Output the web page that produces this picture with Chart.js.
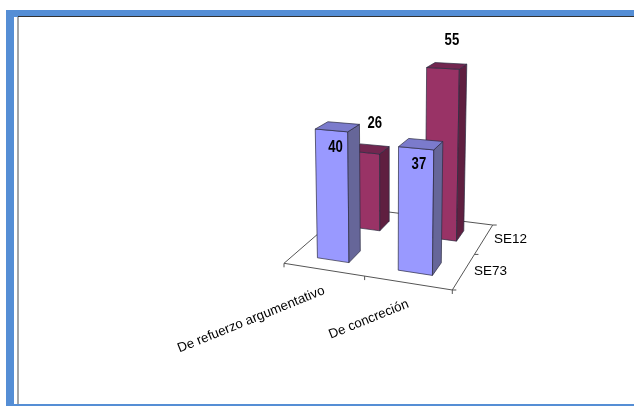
<!DOCTYPE html>
<html>
<head>
<meta charset="utf-8">
<title>SE73 / SE12</title>
<script src="https://cdn.jsdelivr.net/npm/chart.js@4"></script>
<style>
  html, body { margin: 0; background: #fff; overflow: hidden; }
  #stage { position: relative; width: 634px; height: 406px; }
  #stage canvas { position: absolute; left: 0; top: 0; }
  .edge { position: absolute; }
</style>
</head>
<body>
<div id="stage">
  <div class="edge" style="left:6px;top:10px;width:628px;height:7px;background:#558ed5"></div>
  <div class="edge" style="left:6px;top:10px;width:8px;height:396px;background:#558ed5"></div>
  <div class="edge" style="left:6px;top:404px;width:628px;height:2px;background:#558ed5"></div>
  <div class="edge" style="left:18px;top:16px;width:616px;height:1px;background:#333"></div>
  <div class="edge" style="left:17px;top:17px;width:2px;height:387px;background:#a6a6a6"></div>
  <canvas id="myChart" width="634" height="406"></canvas>
</div>
<script>
'use strict';

const CATEGORIES = ['De refuerzo argumentativo', 'De concreción'];
const SERIES_NAMES = ['SE73', 'SE12'];
const SE73_VALUES = [40, 37];
const SE12_VALUES = [26, 55];

const VALUE_MAX = 60;

/** Projective camera: floor position (u, v in 0..1) and height in value units to canvas */
const CAMERA = {
  a: 132.03, b: 132.6, c: 284, p: -0.295,
  d: 3.44, e: -16.18, f: 263.3, r: -3.365,
  g: -0.0802, h: 0.1937, q: -0.00076
};

/** Where each row of bars stands on the floor, and half of the depth it takes */
const BAR_DEPTHS = [0.228, 0.75];
const BAR_HALF_DEPTH = 0.09;

const STYLES = [
  { front: '#9999ff', side: '#666699', top: '#7b7bcc', labelDx: -2, labelDy: 21 },
  { front: '#993366', side: '#5f1f40', top: '#732650', labelDx: 5, labelDy: -25 }
];

function project(u, v, w) {
  const k = CAMERA;
  const div = k.g * u + k.h * v + k.q * w + 1;
  return {
    x: (k.a * u + k.b * v + k.p * w + k.c) / div,
    y: (k.d * u + k.e * v + k.r * w + k.f) / div
  };
}

function face(ctx, points, fill) {
  ctx.beginPath();
  points.forEach((pt, i) => {
    const s = project(pt[0], pt[1], pt[2]);
    if (i === 0) ctx.moveTo(s.x, s.y); else ctx.lineTo(s.x, s.y);
  });
  ctx.closePath();
  ctx.fillStyle = fill;
  ctx.fill();
  ctx.lineWidth = 0.7;
  ctx.strokeStyle = '#2b2b40';
  ctx.stroke();
}

function line(ctx, a, b) {
  ctx.beginPath();
  ctx.moveTo(a.x, a.y);
  ctx.lineTo(b.x, b.y);
  ctx.stroke();
}

/** Reads a bar element back through the scales and gives its extent on the floor */
function barBox(chart, element, datasetIndex) {
  const area = chart.chartArea;
  const centre = (element.x - area.left) / area.width;
  const half = element.width / 2 / area.width;
  const depth = BAR_DEPTHS[datasetIndex];
  return {
    u0: centre - half,
    u1: centre + half,
    v0: depth - BAR_HALF_DEPTH,
    v1: depth + BAR_HALF_DEPTH,
    centre: centre,
    depth: depth,
    w: chart.scales.y.getValueForPixel(element.y)
  };
}

const floorPlugin = {
  id: 'floor',
  beforeDatasetsDraw(chart) {
    const ctx = chart.ctx;
    const area = chart.chartArea;
    const tickLen = 4;
    ctx.save();
    ctx.strokeStyle = '#555';
    ctx.lineWidth = 1;
    const corners = [[0, 0], [1, 0], [1, 1], [0, 1]].map(c => project(c[0], c[1], 0));
    corners.forEach((c, i) => line(ctx, c, corners[(i + 1) % 4]));

    // category ticks run along the front edge, series ticks along the right edge
    for (let i = 0; i <= CATEGORIES.length; i++) {
      const s = project(i / CATEGORIES.length, 0, 0);
      line(ctx, s, { x: s.x, y: s.y + tickLen });
    }
    for (let i = 0; i <= SERIES_NAMES.length; i++) {
      const s = project(1, i / SERIES_NAMES.length, 0);
      line(ctx, s, { x: s.x + tickLen, y: s.y });
    }

    ctx.fillStyle = '#000';
    ctx.font = '13.3px "Liberation Sans"';
    ctx.textAlign = 'right';
    ctx.textBaseline = 'alphabetic';
    chart.getDatasetMeta(0).data.forEach((element, i) => {
      const s = project((element.x - area.left) / area.width, 0, 0);
      ctx.save();
      ctx.translate(s.x + 2, s.y + 24);
      ctx.rotate(-22 * Math.PI / 180);
      ctx.fillText(CATEGORIES[i], 0, 0);
      ctx.restore();
    });

    ctx.font = '13.5px "Liberation Sans"';
    ctx.textAlign = 'left';
    ctx.textBaseline = 'middle';
    SERIES_NAMES.forEach((name, i) => {
      const s = project(1, (i + 0.5) / SERIES_NAMES.length, 0);
      ctx.fillText(name, s.x + 10, s.y);
    });
    ctx.restore();
  }
};

const boxPlugin = {
  id: 'boxes',
  // the flat rectangles are replaced by prisms built from the same elements
  beforeDatasetDraw(chart, args) {
    const ctx = chart.ctx;
    const style = STYLES[args.index];
    ctx.save();
    args.meta.data.forEach(element => {
      const b = barBox(chart, element, args.index);
      face(ctx, [[b.u0, b.v0, 0], [b.u1, b.v0, 0], [b.u1, b.v0, b.w], [b.u0, b.v0, b.w]], style.front);
      face(ctx, [[b.u1, b.v0, 0], [b.u1, b.v1, 0], [b.u1, b.v1, b.w], [b.u1, b.v0, b.w]], style.side);
      face(ctx, [[b.u0, b.v0, b.w], [b.u1, b.v0, b.w], [b.u1, b.v1, b.w], [b.u0, b.v1, b.w]], style.top);
    });
    ctx.restore();
    return false;
  },
  afterDatasetsDraw(chart) {
    const ctx = chart.ctx;
    ctx.save();
    ctx.fillStyle = '#000';
    ctx.font = 'bold 16px "Liberation Sans"';
    ctx.textAlign = 'center';
    ctx.textBaseline = 'middle';
    chart.data.datasets.forEach((dataset, d) => {
      chart.getDatasetMeta(d).data.forEach((element, i) => {
        const b = barBox(chart, element, d);
        const s = project(b.centre, b.depth, b.w);
        ctx.save();
        ctx.translate(s.x + STYLES[d].labelDx, s.y + STYLES[d].labelDy);
        ctx.scale(0.82, 1);
        ctx.fillText(String(dataset.data[i]), 0, 0);
        ctx.restore();
      });
    });
    ctx.restore();
  }
};

const DATA = {
  labels: CATEGORIES,
  datasets: [
    { label: SERIES_NAMES[0], data: SE73_VALUES, backgroundColor: STYLES[0].front },
    { label: SERIES_NAMES[1], data: SE12_VALUES, backgroundColor: STYLES[1].front }
  ]
};

const OPTIONS = {
  responsive: false,
  animation: false,
  layout: { padding: 0 },
  grouped: false,
  categoryPercentage: 1,
  barPercentage: 0.4,
  scales: {
    x: { display: false },
    y: { display: false, min: 0, max: VALUE_MAX }
  },
  plugins: {
    legend: { display: false },
    title: { display: false },
    tooltip: { enabled: false }
  }
};

const CTX = document.getElementById('myChart').getContext('2d');
const myChart = new Chart(CTX, {
  type: 'bar',
  data: DATA,
  options: OPTIONS,
  plugins: [floorPlugin, boxPlugin]
});
</script>
</body>
</html>
